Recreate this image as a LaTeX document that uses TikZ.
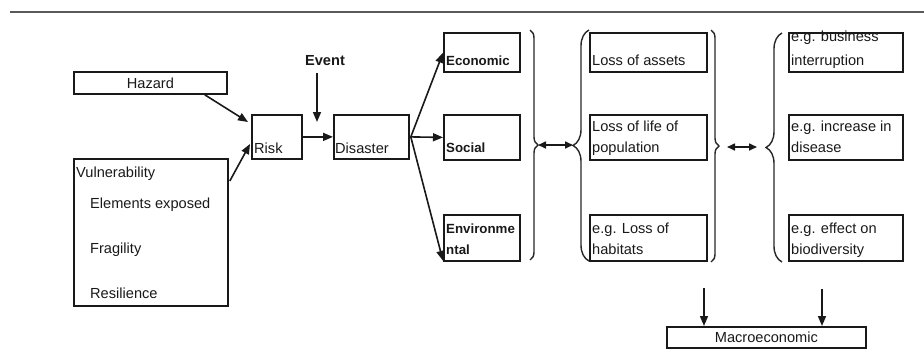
\documentclass[tikz,border=0pt]{standalone}
\usepackage{fontspec}
\setmainfont{Liberation Sans}
\usetikzlibrary{arrows.meta,decorations.pathreplacing,calc}
\begin{document}
\begin{tikzpicture}[x=1pt,y=-1pt,
  font=\fontsize{14.6}{17}\selectfont,
  box/.style={draw=black!90, line width=1.8pt, inner sep=0pt, anchor=north west},
  txt/.style={anchor=base west, inner sep=0pt, text=black!90},
  btxt/.style={txt, font=\fontsize{13.3}{16}\selectfont\bfseries},
  arr/.style={-{Triangle[length=10pt,width=8pt]}, line width=1.6pt, draw=black!90},
  darr/.style={{Triangle[length=8pt,width=7pt]}-{Triangle[length=8pt,width=7pt]}, line width=1.6pt, draw=black!90},
  brc/.style={draw=black!85, line width=1.4pt, decorate, decoration={brace, amplitude=#1}}
]
\useasboundingbox (0,0) rectangle (924,354);
% top rule
\draw[line width=2pt, black!65] (10,12) -- (924,12);

% text clipped by box border
\node[txt] (tbus1) at (791,41) {e.g. business};

% boxes
\node[box, minimum width=153pt, minimum height=22pt] (hazard) at (73,71) {};
\node[box, minimum width=50pt, minimum height=44pt] (risk) at (251,114) {};
\node[box, minimum width=75pt, minimum height=44pt] (disaster) at (333,114) {};
\node[box, minimum width=154pt, minimum height=147pt] (vuln) at (73,158) {};
\node[box, minimum width=76pt, minimum height=39pt] (econ) at (443,32) {};
\node[box, minimum width=76pt, minimum height=45pt] (social) at (443,114) {};
\node[box, minimum width=76pt, minimum height=46pt] (env) at (443,214) {};
\node[box, minimum width=117pt, minimum height=39pt] (assets) at (589,32) {};
\node[box, minimum width=117pt, minimum height=45pt] (life) at (589,114) {};
\node[box, minimum width=117pt, minimum height=46pt] (habitat) at (589,214) {};
\node[box, minimum width=114pt, minimum height=39pt] (business) at (788,32) {};
\node[box, minimum width=114pt, minimum height=45pt] (disease) at (788,114) {};
\node[box, minimum width=114pt, minimum height=46pt] (biodiv) at (788,214) {};
\node[box, minimum width=199pt, minimum height=21pt] (macro) at (666,326) {};

% texts
\node[text=black!90, inner sep=0pt] (thaz) at (hazard.center) {Hazard};
\node[txt, font=\fontsize{14.6}{17}\selectfont\bfseries, anchor=center] (event) at (325,61) {Event};
\node[txt] (trisk) at (254,153) {Risk};
\node[txt] (tdis) at (335,153) {Disaster};
\node[txt] (tv1) at (76,177) {Vulnerability};
\node[txt] (tv2) at (90,208) {Elements exposed};
\node[txt] (tv3) at (90,253) {Fragility};
\node[txt] (tv4) at (90,298) {Resilience};
\node[btxt] (tecon) at (446,65) {Economic};
\node[btxt] (tsoc) at (446,152) {Social};
\node[btxt] (tenv1) at (446,233) {Environme};
\node[btxt] (tenv2) at (446,254) {ntal};
\node[txt] (tass) at (592,65) {Loss of assets};
\node[txt] (tlife1) at (592,131) {Loss of life of};
\node[txt] (tlife2) at (592,152) {population};
\node[txt] (thab1) at (592,233) {e.g. Loss of};
\node[txt] (thab2) at (592,254) {habitats};
\node[txt] (tbus2) at (791,65) {interruption};
\node[txt] (tdis1) at (791,131) {e.g. increase in};
\node[txt] (tdis2) at (791,152) {disease};
\node[txt] (tbio1) at (791,233) {e.g. effect on};
\node[txt] (tbio2) at (791,254) {biodiversity};
\node[text=black!90, inner sep=0pt] (tmac) at (macro.center) {Macroeconomic};

% connectors
\draw[arr] ($(hazard.south east)+(-23,0)$) -- ($(risk.north west)+(-3,8)$);
\draw[arr] ($(vuln.north east)+(1,23)$) -- ($(risk.north west)+(-1,30)$);
\coordinate (evtop) at (317,73);
\draw[arr] (evtop) -- (317,122);
\draw[arr] (risk.east) -- (disaster.west);
\draw[arr] ($(disaster.east)+(1,0)$) -- ($(econ.south west)+(0,-20)$);
\draw[arr] ($(disaster.east)+(1,0)$) -- (social.west);
\draw[arr] ($(disaster.east)+(1,0)$) -- ($(env.south west)+(0,-1)$);

% braces
\draw[brc=8pt] (530,30) -- (530,260);
\draw[brc=16pt] (589,261) -- (589,30);
\draw[brc=8pt] (711,30) -- (711,262);
\draw[brc=16pt] (782,262) -- (782,33);
\coordinate (bt1) at (538,145);
\coordinate (bt2) at (573,145);
\coordinate (bt3) at (727,147);
\coordinate (bt4) at (757,147);
\draw[darr] (bt1) -- (bt2);
\draw[darr] (bt3) -- (bt4);

% to macroeconomic
\coordinate (d1) at (704,288);
\coordinate (d2) at (822,289);
\draw[arr] (d1) -- ($(macro.north west)+(38,0)$);
\draw[arr] (d2) -- ($(macro.north west)+(156,0)$);
\end{tikzpicture}
\end{document}
